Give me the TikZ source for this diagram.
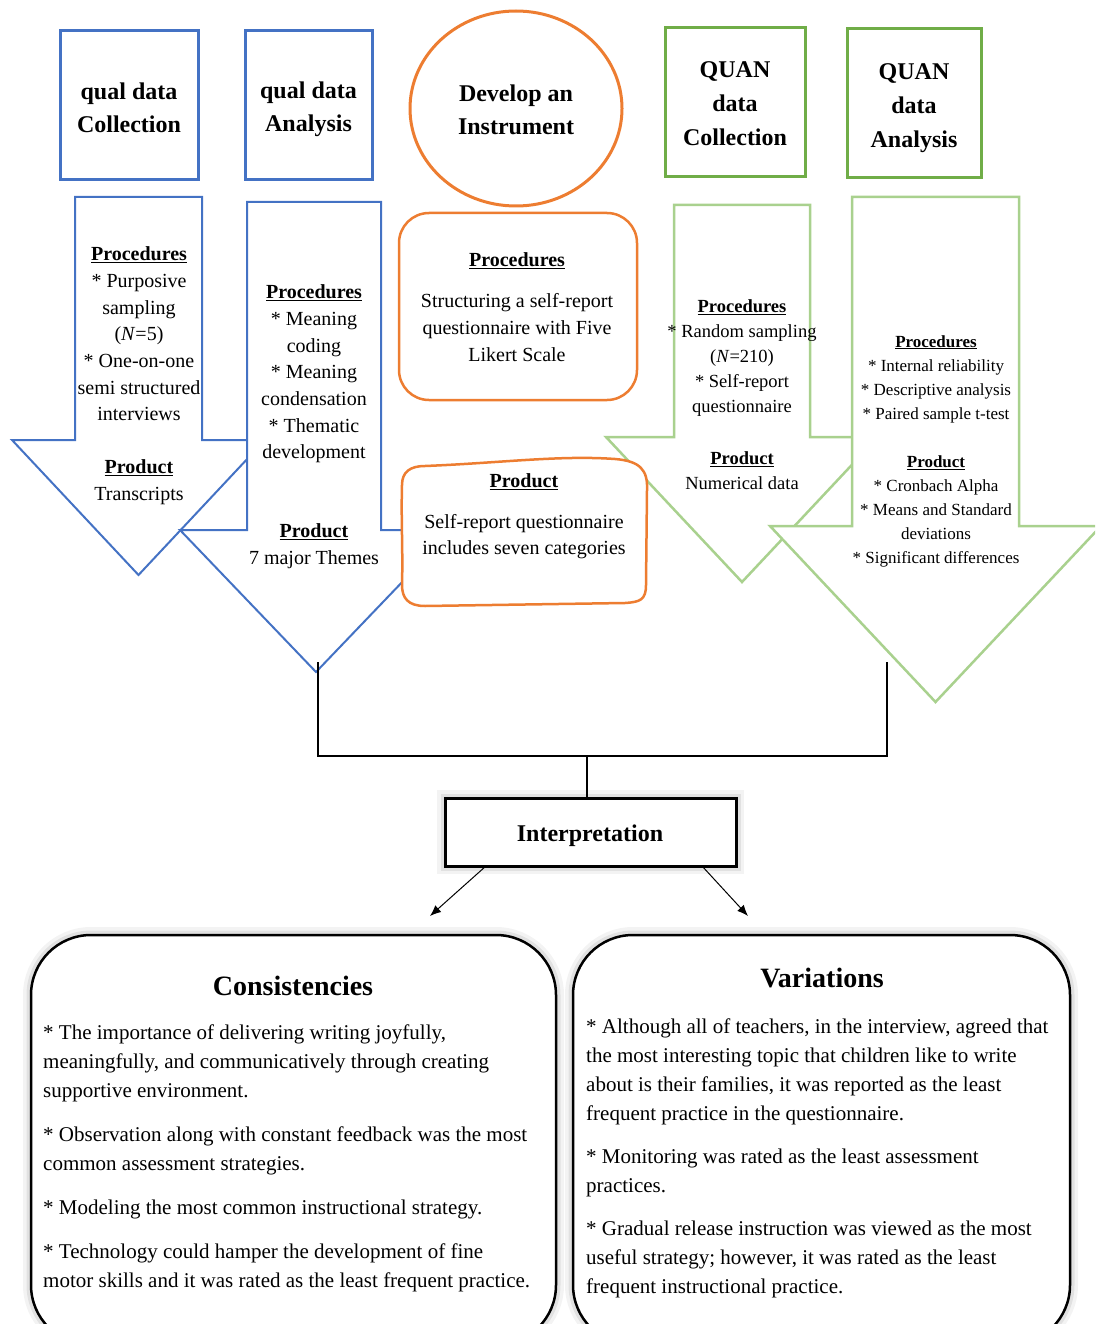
\documentclass[tikz,border=0pt]{standalone}
\usepackage{fontspec}
\setmainfont{Liberation Serif}
\usetikzlibrary{shapes.geometric, arrows.meta}
\definecolor{mblue}{HTML}{4472C4}
\definecolor{morange}{HTML}{ED7D31}
\definecolor{mgreen}{HTML}{70AD47}
\definecolor{lgreen}{HTML}{A9D18E}
\newcommand{\fsz}[2]{\fontsize{#1}{#2}\selectfont}
\newcommand{\hd}[1]{\underline{\textbf{#1}}}
\begin{document}
\begin{tikzpicture}[x=1pt,y=-1pt,
  titlebox/.style={draw, line width=3pt, fill=white, inner sep=0pt},
  titletxt/.style={align=center, inner sep=0pt, font=\fsz{24}{33}\bfseries},
  txt/.style={align=center, inner sep=0pt},
  arrowA/.style={draw=mblue, line width=2pt, fill=white, line join=miter},
  arrowG/.style={draw=lgreen, line width=2.5pt, fill=white, line join=miter},
  obox/.style={draw=morange, line width=2.5pt, rounded corners=30pt, fill=white, inner sep=0pt},
  conn/.style={line width=2.5pt, black},
  glow/.style={preaction={draw=black!45, line width=16pt, opacity=0.10},
               preaction={draw=black!45, line width=9pt, opacity=0.18}},
  bigbox/.style={glow, draw=black, line width=2.5pt, fill=white, rounded corners=60pt}
]
\useasboundingbox (0,0) rectangle (1095,1324);
\clip (0,0) rectangle (1095,1324);

% header boxes
\node[titlebox, draw=mblue, minimum width=138pt, minimum height=149pt] (qc) at (129,105.5) {};
\node[titletxt] (qct) at (129,107.5) {qual data\\Collection};
\node[titlebox, draw=mblue, minimum width=127pt, minimum height=149pt] (qa) at (308.5,105.5) {};
\node[titletxt] (qat) at (308.5,109.5) {qual data\\Analysis};
\node[draw=morange, line width=3pt, ellipse, minimum width=212pt, minimum height=195pt, inner sep=0pt] (dev) at (516,108.5) {};
\node[titletxt] (devt) at (516,110) {Develop an\\Instrument};
\node[titlebox, draw=mgreen, minimum width=140pt, minimum height=149pt] (qnc) at (735,102.5) {};
\node[titletxt, font=\fsz{24}{34}\bfseries] (qnct) at (735,104) {QUAN\\data\\Collection};
\node[titlebox, draw=mgreen, minimum width=134pt, minimum height=149pt] (qna) at (914,103.5) {};
\node[titletxt, font=\fsz{24}{34}\bfseries] (qnat) at (914,108.5) {QUAN\\data\\Analysis};

% blue arrows
\draw[arrowA] (75,197) -- (202,197) -- (202,440) -- (265,440) -- (138.5,575) -- (12,440) -- (75,440) -- cycle;
\draw[arrowA] (247,202) -- (381,202) -- (381,530) -- (452,530) -- (316,672) -- (180,530) -- (247,530) -- cycle;

% orange procedures box
\node[obox, minimum width=238pt, minimum height=187pt] (oproc) at (518,306.5) {};

% green arrows
\draw[arrowG] (674,205) -- (810,205) -- (810,437) -- (878,437) -- (742,582) -- (606,437) -- (674,437) -- cycle;
\draw[arrowG] (852,197) -- (1019,197) -- (1019,526) -- (1101,526) -- (935.5,702) -- (770,526) -- (852,526) -- cycle;

% orange product box (hand-drawn look)
\draw[draw=morange, line width=2.5pt, fill=white, line join=round]
  (425,466) .. controls (500,463) and (560,455) .. (615,459)
  .. controls (640,461) and (648,470) .. (647,490)
  -- (646,585) .. controls (646,600) and (640,602) .. (625,603)
  -- (425,606) .. controls (408,606) and (402,598) .. (402,585)
  .. controls (403,550) and (401,520) .. (402,485)
  .. controls (402,472) and (410,466) .. (425,466) -- cycle;

% texts in arrows
\node[txt, font=\fsz{20}{26.7}] (a1proc) at (139,334) {\hd{Procedures}\\{}* Purposive\\sampling\\(\textit{N}=5)\\{}* One-on-one\\semi structured\\interviews};
\node[txt, font=\fsz{20}{26.7}] (a1prod) at (139,482) {\hd{Product}\\Transcripts};
\node[txt, font=\fsz{20}{26.7}] (a2proc) at (314,374) {\hd{Procedures}\\{}* Meaning\\coding\\{}* Meaning\\condensation\\{}* Thematic\\development};
\node[txt, font=\fsz{20}{26.7}] (a2prod) at (314,546.5) {\hd{Product}\\7 major Themes};
\node[txt, font=\fsz{20}{27}] (oproct) at (517,307.5) {\hd{Procedures}\\[14pt]Structuring a self-report\\questionnaire with Five\\Likert Scale};
\node[txt, font=\fsz{20}{26}] (oprodt) at (524,516) {\hd{Product}\\[15pt]Self-report questionnaire\\includes seven categories};
\node[txt, font=\fsz{18.5}{25}] (a3proc) at (742,358) {\hd{Procedures}\\{}* Random sampling\\(\textit{N}=210)\\{}* Self-report\\questionnaire};
\node[txt, font=\fsz{18.5}{25}] (a3prod) at (742,470.5) {\hd{Product}\\Numerical data};
\node[txt, font=\fsz{17}{24}] (a4proc) at (936,379) {\hd{Procedures}\\{}* Internal reliability\\{}* Descriptive analysis\\{}* Paired sample t-test};
\node[txt, font=\fsz{17}{24}] (a4prod) at (936,511.5) {\hd{Product}\\{}* Cronbach Alpha\\{}* Means and Standard\\deviations\\{}* Significant differences};

% connector bracket
\coordinate (lt) at (318,662);
\coordinate (lb) at (318,756);
\coordinate (rt) at (887,662);
\coordinate (rb) at (887,756);
\coordinate (jn) at (587,756);
\draw[conn] (lt) -- (lb) -- (rb) -- (rt);

% interpretation
\node[glow, draw=black, line width=3pt, fill=white, minimum width=291pt, minimum height=68pt, inner sep=0pt] (interp) at (590.5,832) {};
\node[inner sep=0pt, font=\fsz{24}{28}\bfseries] (interpt) at (590,836) {Interpretation};
\draw[conn] (jn) -- (interp.north -| jn);

\coordinate (s1) at (486,866);
\coordinate (e1) at (430,916);
\coordinate (s2) at (702,866);
\coordinate (e2) at (748,916);
\draw[line width=1pt, -{Latex[length=11pt,width=9pt]}] (s1) -- (e1);
\draw[line width=1pt, -{Latex[length=11pt,width=9pt]}] (s2) -- (e2);

% bottom boxes
\draw[bigbox] (31,935) rectangle (556,1345);
\draw[bigbox] (573,935) rectangle (1070,1345);

\node[inner sep=0pt, font=\fsz{28}{32}\bfseries] (ctitle) at (293,986) {Consistencies};
\node[anchor=north west, align=left, inner sep=0pt, font=\fsz{21}{29}] (ctext) at (43,1024.5) {%
* The importance of delivering writing joyfully,\\
meaningfully, and communicatively through creating\\
supportive environment.\\[15pt]
{}* Observation along with constant feedback was the most\\
common assessment strategies.\\[15pt]
{}* Modeling the most common instructional strategy.\\[15pt]
{}* Technology could hamper the development of fine\\
motor skills and it was rated as the least frequent practice.};

\node[inner sep=0pt, font=\fsz{28}{32}\bfseries] (vtitle) at (822,978) {Variations};
\node[anchor=north west, align=left, inner sep=0pt, font=\fsz{21}{29}] (vtext) at (586,1018.5) {%
* Although all of teachers, in the interview, agreed that\\
the most interesting topic that children like to write\\
about is their families, it was reported as the least\\
frequent practice in the questionnaire.\\[14pt]
{}* Monitoring was rated as the least assessment\\
practices.\\[14pt]
{}* Gradual release instruction was viewed as the most\\
useful strategy; however, it was rated as the least\\
frequent instructional practice.};
\end{tikzpicture}
\end{document}
